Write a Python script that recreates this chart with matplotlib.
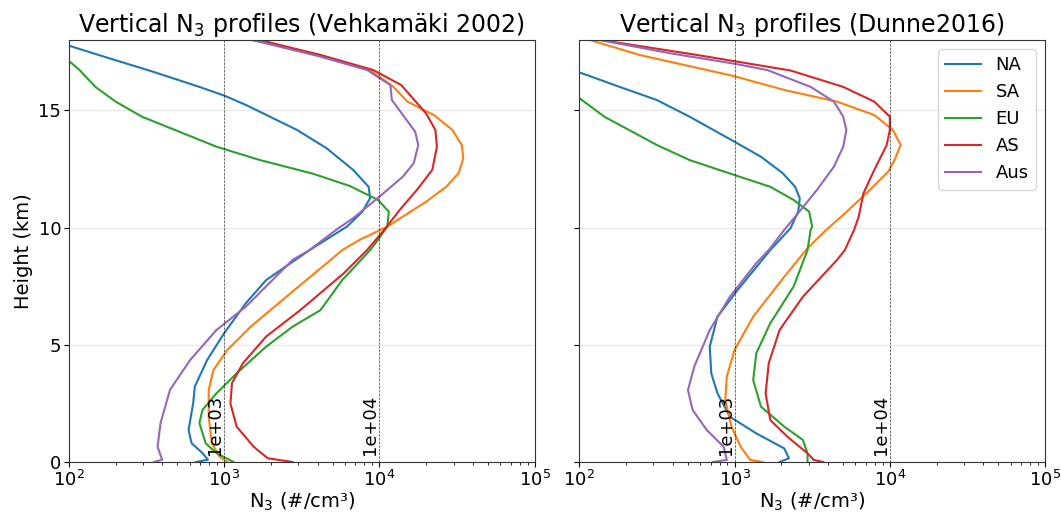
import numpy as np
import matplotlib
matplotlib.use('Agg')
import matplotlib.pyplot as plt

regions = ['NA', 'SA', 'EU', 'AS', 'Aus']
colors = ['tab:blue', 'tab:orange', 'tab:green', 'tab:red', 'tab:purple']

# Vehkamaki 2002 parametrisation : height (km) and N3 (#/cm3)
vk_NA_h = [0.0, 0.1, 0.38, 0.8, 1.37, 2.5, 3.21, 4.35, 5.5, 6.78, 7.76, 9.04, 10.04, 10.68, 11.26, 11.74, 12.46, 13.38, 14.16, 15.23, 15.63, 16.0, 16.65, 17.22, 17.75, 18.0]
vk_NA_n = [661, 785, 724, 617, 589, 631, 646, 776, 1000, 1380, 1862, 3548, 6166, 7762, 8710, 8511, 6761, 4571, 2951, 1380, 1000, 692, 347, 182, 101, 85]

vk_SA_h = [0.0, 0.23, 0.8, 1.93, 3.07, 3.92, 4.78, 5.77, 7.05, 8.48, 9.04, 9.47, 10.04, 10.68, 11.1, 11.74, 12.32, 12.96, 13.52, 14.16, 14.8, 15.37, 16.0, 16.72, 17.36, 18.0]
vk_SA_n = [1047, 933, 832, 794, 794, 851, 1047, 1479, 2512, 4571, 5754, 7413, 11220, 15850, 19950, 26920, 32360, 34670, 33880, 29510, 22390, 15140, 12300, 8710, 4169, 1514]

vk_EU_h = [0.0, 0.38, 0.8, 1.66, 2.22, 2.93, 3.78, 4.92, 5.77, 6.48, 7.76, 9.04, 9.47, 10.04, 10.68, 11.18, 11.77, 12.3, 12.88, 13.45, 14.73, 15.37, 16.0, 16.72, 17.08, 18.0]
vk_EU_n = [1148, 891, 759, 692, 724, 891, 1202, 1862, 2754, 4169, 5754, 8710, 9772, 11220, 11480, 9772, 6457, 3715, 1698, 891, 295, 200, 148, 117, 101, 60]

vk_AS_h = [0.0, 0.16, 0.65, 1.51, 2.5, 3.36, 4.21, 5.35, 6.48, 8.05, 9.04, 9.9, 10.75, 11.6, 12.46, 13.45, 14.16, 14.87, 16.08, 16.72, 17.36, 18.0]
vk_AS_n = [2754, 1905, 1549, 1202, 1096, 1122, 1318, 1862, 3090, 5888, 8318, 10720, 13490, 17380, 21880, 23440, 22910, 19950, 13800, 9120, 4169, 1698]

vk_Aus_h = [0.0, 0.1, 0.65, 1.66, 3.07, 4.35, 5.63, 6.63, 8.62, 9.04, 9.9, 10.4, 11.32, 12.17, 12.74, 13.52, 14.09, 15.44, 16.08, 16.72, 17.29, 18.0]
vk_Aus_n = [355, 398, 372, 389, 447, 603, 891, 1380, 2754, 3548, 5248, 6761, 10000, 14130, 16600, 17780, 16980, 12020, 11750, 8318, 4169, 1514]

# Dunne 2016 parametrisation
du_NA_h = [0.0, 0.16, 0.58, 1.22, 1.93, 2.93, 3.78, 4.92, 6.2, 7.34, 9.04, 9.97, 10.68, 11.25, 11.74, 12.32, 13.02, 13.66, 14.73, 15.44, 16.0, 16.61, 18.0]
du_NA_n = [1950, 2239, 2089, 1380, 933, 776, 708, 692, 776, 1047, 1698, 2291, 2570, 2630, 2455, 2042, 1479, 1000, 513, 316, 182, 101, 40]

du_SA_h = [0.0, 0.09, 0.65, 1.51, 2.65, 3.64, 4.78, 6.2, 7.9, 9.12, 9.9, 10.54, 11.53, 12.39, 12.88, 13.52, 14.16, 14.8, 15.37, 15.87, 16.47, 17.36, 18.0]
du_SA_n = [1514, 1259, 1096, 955, 871, 891, 1000, 1318, 2089, 2951, 3890, 5012, 7244, 9772, 10720, 11750, 10470, 7943, 4571, 2089, 977, 245, 117]

du_EU_h = [0.0, 0.37, 0.94, 1.51, 2.36, 3.5, 4.64, 5.92, 7.48, 9.04, 9.9, 10.04, 10.68, 11.18, 11.74, 12.24, 12.88, 13.52, 14.73, 15.5, 18.0]
du_EU_n = [2951, 2951, 2754, 2089, 1479, 1318, 1380, 1698, 2399, 2951, 3090, 3162, 3020, 2399, 1698, 1000, 513, 316, 145, 101, 25]

du_AS_h = [0.0, 0.09, 0.37, 1.08, 1.79, 2.93, 4.21, 5.63, 7.05, 8.62, 9.04, 9.9, 10.47, 11.46, 12.46, 13.52, 14.16, 14.73, 15.37, 16.0, 16.7, 17.36, 18.0]
du_AS_n = [3715, 3236, 2951, 2188, 1698, 1585, 1660, 1950, 2754, 4571, 5129, 5888, 6310, 6761, 7943, 9550, 10000, 10000, 7943, 5012, 2291, 575, 138]

du_Aus_h = [0.0, 0.09, 0.65, 1.37, 2.22, 3.07, 4.07, 5.63, 7.05, 8.48, 9.04, 9.9, 10.54, 11.6, 12.6, 13.45, 14.16, 14.73, 15.37, 16.0, 16.72, 17.0, 17.43, 18.0]
du_Aus_n = [724, 891, 851, 661, 537, 501, 550, 692, 933, 1380, 1660, 2089, 2512, 3388, 4365, 5012, 5248, 5012, 4365, 3090, 1622, 977, 389, 135]

vk_profiles = [(vk_NA_h, vk_NA_n), (vk_SA_h, vk_SA_n), (vk_EU_h, vk_EU_n), (vk_AS_h, vk_AS_n), (vk_Aus_h, vk_Aus_n)]
du_profiles = [(du_NA_h, du_NA_n), (du_SA_h, du_SA_n), (du_EU_h, du_EU_n), (du_AS_h, du_AS_n), (du_Aus_h, du_Aus_n)]
titles = ['Vertical N$_3$ profiles (Vehkamäki 2002)', 'Vertical N$_3$ profiles (Dunne2016)']
ref_lines = [1e3, 1e4]

fig = plt.figure(figsize=(10.61, 5.13), dpi=100)
ax1 = fig.add_axes([0.065, 0.0994, 0.439, 0.8226])
ax2 = fig.add_axes([0.546, 0.0994, 0.439, 0.8226], sharey=ax1)

for ax, profiles, title in zip([ax1, ax2], [vk_profiles, du_profiles], titles):
    for (h, n), reg, c in zip(profiles, regions, colors):
        ax.plot(n, h, color=c, label=reg, linewidth=1.5)
    for xv in ref_lines:
        ax.axvline(xv, color='k', linestyle='--', linewidth=0.5, alpha=0.8)
        ax.text(xv, 0.3, '%.0e' % xv, rotation=90, ha='right', va='bottom', fontsize=13)
    ax.set_xscale('log')
    ax.set_xlim(1e2, 1e5)
    ax.set_ylim(0, 18)
    ax.set_yticks([0, 5, 10, 15])
    ax.grid(axis='y', color='#dddddd', linewidth=0.8, alpha=0.7)
    ax.set_title(title, fontsize=17)
    ax.set_xlabel('N$_3$ (#/cm³)', fontsize=14, labelpad=1)
    ax.tick_params(labelsize=13, pad=2)
    for spine in ax.spines.values():
        spine.set_edgecolor('#333333')

ax1.set_ylabel('Height (km)', fontsize=14)
plt.setp(ax2.get_yticklabels(), visible=False)
ax2.legend(loc='upper right', fontsize=13)

fig.savefig('out.png', dpi=100)
